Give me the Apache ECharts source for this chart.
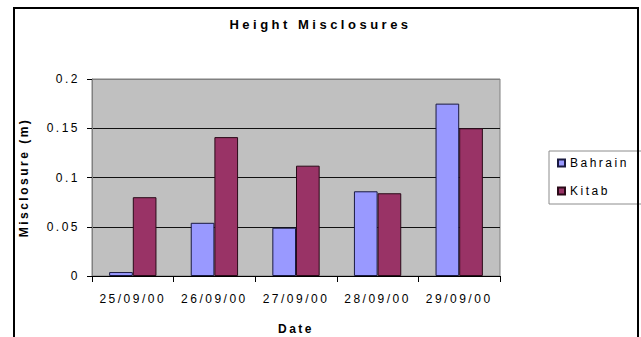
<!DOCTYPE html>
<html>
<head>
<meta charset="utf-8">
<script src="https://cdn.jsdelivr.net/npm/echarts@6/dist/echarts.min.js"></script>
<style>
  html, body { margin: 0; padding: 0; background: #fff; }
  #chart { position: absolute; left: 0; top: 0; width: 641px; height: 337px; }
  #frame { position: absolute; left: 13px; top: 7px; width: 626px; height: 400px;
           box-sizing: border-box; border: 2px solid #000; border-bottom: none;
           pointer-events: none; }
  #chart svg text { letter-spacing: 2.5px; }
  #chart svg text[style*="13px"] { letter-spacing: 3.5px; }
</style>
</head>
<body>
<div id="chart"></div>
<div id="frame"></div>
<script>
const categories = ['25/09/00', '26/09/00', '27/09/00', '28/09/00', '29/09/00'];
const bahrain = [0.004, 0.054, 0.049, 0.086, 0.175];
const kitab = [0.080, 0.141, 0.112, 0.084, 0.150];
const seriesNames = ['Bahrain', 'Kitab'];
const titleText = 'Height Misclosures';
const xName = 'Date';
const yName = 'Misclosure (m)';

const FONT = "'Liberation Sans', Arial, sans-serif";
const chart = echarts.init(document.getElementById('chart'), null, { renderer: 'svg' });
chart.setOption({
  animation: false,
  backgroundColor: 'transparent',
  title: {
    text: titleText,
    left: 'center',
    top: 13,
    textStyle: { fontFamily: FONT, fontSize: 13, fontWeight: 'bold', color: '#000' }
  },
  legend: {
    orient: 'vertical',
    left: 549,
    top: 151,
    width: 80,
    itemWidth: 7,
    itemHeight: 7,
    itemGap: 16,
    padding: [6, 36, 7, 8],
    borderColor: '#8c8c8c',
    borderWidth: 1,
    icon: 'rect',
    textStyle: { fontFamily: FONT, fontSize: 12, color: '#000' },
    data: seriesNames
  },
  grid: {
    left: 92, right: 141, top: 79, bottom: 61,
    containLabel: false,
    outerBoundsMode: 'none',
    show: true, backgroundColor: '#C0C0C0', borderColor: '#808080', borderWidth: 1
  },
  xAxis: {
    type: 'category',
    data: categories,
    name: xName,
    nameLocation: 'middle',
    nameGap: 47,
    nameTextStyle: { fontFamily: FONT, fontSize: 12, fontWeight: 'bold', color: '#000' },
    axisLine: { lineStyle: { color: '#000', width: 1 } },
    axisTick: { show: true, length: 6, lineStyle: { color: '#000' } },
    axisLabel: { fontFamily: FONT, fontSize: 12, color: '#000', margin: 17 }
  },
  yAxis: {
    type: 'value',
    min: 0,
    max: 0.2,
    interval: 0.05,
    name: yName,
    nameLocation: 'middle',
    nameGap: 62,
    nameTextStyle: { fontFamily: FONT, fontSize: 12, fontWeight: 'bold', color: '#000' },
    axisLine: { show: true, lineStyle: { color: '#808080' } },
    axisTick: { show: true, length: 5, lineStyle: { color: '#000' } },
    axisLabel: { fontFamily: FONT, fontSize: 12, color: '#000', margin: 12 },
    splitLine: { show: true, lineStyle: { color: ['#111', '#111', '#111', '#111', '#808080'], width: 1 } }
  },
  series: [
    {
      name: seriesNames[0], type: 'bar', data: bahrain,
      barGap: '0%', barCategoryGap: '42%',
      itemStyle: { color: '#9999FF', borderColor: '#1a1a40', borderWidth: 1 }
    },
    {
      name: seriesNames[1], type: 'bar', data: kitab,
      itemStyle: { color: '#993366', borderColor: '#2a0a18', borderWidth: 1 }
    }
  ]
});
</script>
</body>
</html>
